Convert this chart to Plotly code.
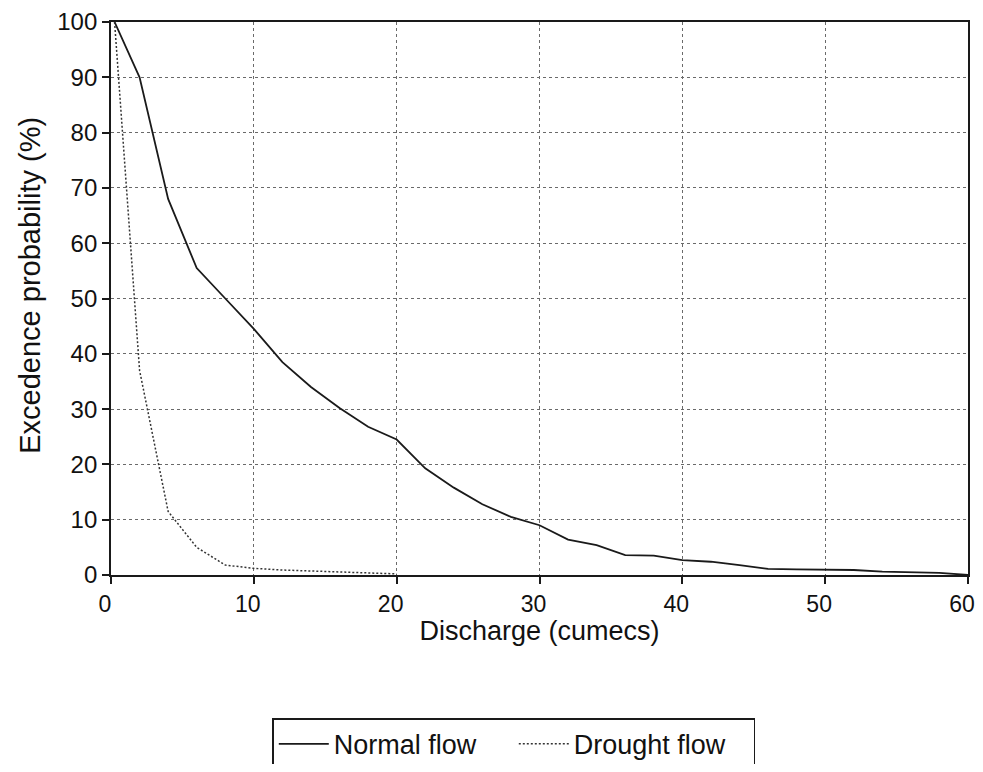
import plotly.graph_objects as go

# Data
normal_x = [0.25, 2, 4, 6, 8, 10, 12, 14, 16, 18, 20, 22, 24, 26, 28, 30,
            32, 34, 36, 38, 40, 42, 44, 46, 48, 50, 52, 54, 56, 58, 60]
normal_y = [100, 90, 68, 55.5, 50, 44.5, 38.5, 34, 30.2, 26.8, 24.5, 19.3, 15.8, 12.8, 10.5, 9.0,
            6.4, 5.4, 3.6, 3.5, 2.7, 2.4, 1.8, 1.1, 1.0, 0.95, 0.9, 0.6, 0.5, 0.4, 0]

drought_x = [0.25, 2, 4, 6, 8, 10, 12, 14, 16, 18, 20]
drought_y = [100, 37, 11.5, 5.0, 1.8, 1.2, 0.9, 0.7, 0.5, 0.4, 0.2]

x_ticks = [0, 10, 20, 30, 40, 50, 60]
y_ticks = [0, 10, 20, 30, 40, 50, 60, 70, 80, 90, 100]

x_title = "Discharge (cumecs)"
y_title = "Excedence probability (%)"

FONT = "Liberation Sans, Arial, Helvetica, sans-serif"

fig = go.Figure()
fig.add_trace(go.Scatter(x=normal_x, y=normal_y, mode="lines", name="Normal flow",
                         line=dict(color="#1a1a1a", width=1.8)))
fig.add_trace(go.Scatter(x=drought_x, y=drought_y, mode="lines", name="Drought flow",
                         line=dict(color="#333333", width=1.5, dash="2px,2px")))

axis_common = dict(
    showline=True, linecolor="#1a1a1a", linewidth=1.8, mirror=True,
    ticks="outside", ticklen=7, tickcolor="#1a1a1a", tickwidth=1.5,
    showgrid=True, gridcolor="#6a6a6a", gridwidth=1, griddash="dot",
    zeroline=False, ticklabeloverflow="allow",
)

fig.update_xaxes(range=[0, 60], tickvals=x_ticks, ticklabelshift=-6,
                 tickfont=dict(family=FONT, size=23, color="#111111"),
                 title=dict(text=x_title, font=dict(family=FONT, size=27, color="#111111"),
                            standoff=4),
                 **axis_common)
fig.update_yaxes(range=[0, 100], tickvals=y_ticks,
                 tickfont=dict(family=FONT, size=24, color="#111111"),
                 **axis_common)

fig.add_annotation(text=y_title, xref="paper", yref="paper", x=0, y=0.523,
                   xanchor="center", yanchor="middle", xshift=-81, textangle=-90,
                   showarrow=False, font=dict(family=FONT, size=29, color="#111111"))

fig.update_layout(
    width=967, height=756,
    margin=dict(l=103, r=7, t=14, b=189, autoexpand=False),
    paper_bgcolor="white", plot_bgcolor="white",
    font=dict(family=FONT, size=24, color="#111111"),
    legend=dict(orientation="h", x=0.47, xanchor="center", y=-0.259, yanchor="top",
                bordercolor="#1a1a1a", borderwidth=1.5, bgcolor="white",
                font=dict(family=FONT, size=27, color="#111111"),
                itemwidth=50, entrywidth=175, tracegroupgap=0),
    showlegend=True,
)

fig.write_html("out.html")
